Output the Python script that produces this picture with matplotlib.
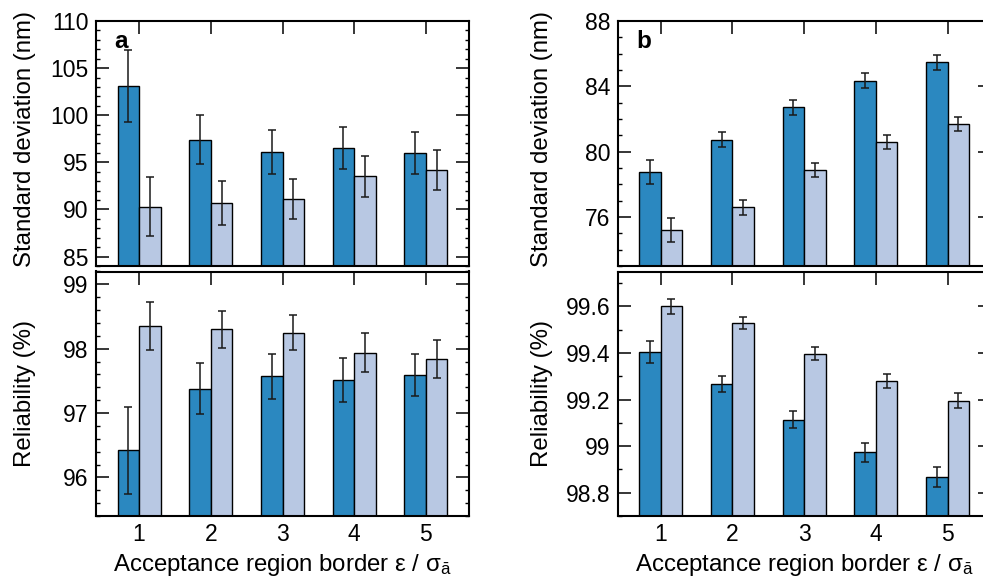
import matplotlib
matplotlib.use("Agg")
import matplotlib.pyplot as plt
from matplotlib.ticker import MultipleLocator, FuncFormatter
import numpy as np

plt.rcParams['font.family'] = ['Liberation Sans', 'DejaVu Sans']
plt.rcParams['mathtext.fontset'] = 'custom'
plt.rcParams['mathtext.rm'] = 'Liberation Sans'
plt.rcParams['mathtext.it'] = 'Liberation Sans'
plt.rcParams['mathtext.bf'] = 'Liberation Sans:bold'

borders = [1, 2, 3, 4, 5]

# panel a
sd_a_dark = [103.1, 97.4, 96.1, 96.5, 96.0]
sd_a_dark_err = [3.8, 2.6, 2.35, 2.25, 2.2]
sd_a_light = [90.3, 90.7, 91.1, 93.5, 94.2]
sd_a_light_err = [3.15, 2.35, 2.15, 2.2, 2.15]
rel_a_dark = [96.42, 97.38, 97.57, 97.51, 97.59]
rel_a_dark_err = [0.68, 0.40, 0.345, 0.34, 0.33]
rel_a_light = [98.35, 98.30, 98.25, 97.94, 97.84]
rel_a_light_err = [0.375, 0.29, 0.27, 0.30, 0.30]

# panel b
sd_b_dark = [78.75, 80.73, 82.71, 84.35, 85.47]
sd_b_dark_err = [0.72, 0.46, 0.44, 0.47, 0.46]
sd_b_light = [75.2, 76.6, 78.88, 80.57, 81.71]
sd_b_light_err = [0.72, 0.45, 0.42, 0.43, 0.43]
rel_b_dark = [99.404, 99.267, 99.113, 98.973, 98.869]
rel_b_dark_err = [0.047, 0.034, 0.036, 0.041, 0.043]
rel_b_light = [99.60, 99.529, 99.396, 99.28, 99.196]
rel_b_light_err = [0.034, 0.024, 0.028, 0.030, 0.033]

DARK = '#2b88c0'
LIGHT = '#b8c8e3'
W, H = 983, 578
TICK_FS = 16.5
LABEL_FS = 17.3


def px_axes(fig, left, top, right, bottom):
    return fig.add_axes([left / W, 1 - bottom / H, (right - left) / W, (bottom - top) / H])


def draw_bars(ax, dark, dark_err, light, light_err):
    x = np.array(borders, dtype=float)
    w = 0.3
    ax.bar(x - w / 2, dark, w, color=DARK, edgecolor='black', linewidth=1.0, zorder=1)
    ax.bar(x + w / 2, light, w, color=LIGHT, edgecolor='black', linewidth=1.0, zorder=1)
    ax.errorbar(x - w / 2, dark, yerr=dark_err, fmt='none', ecolor='#1a1a1a',
                elinewidth=1.1, capsize=3, capthick=1.1, zorder=3)
    ax.errorbar(x + w / 2, light, yerr=light_err, fmt='none', ecolor='#1a1a1a',
                elinewidth=1.1, capsize=3, capthick=1.1, zorder=3)
    ax.set_xlim(0.4, 5.6)
    ax.set_xticks(borders)
    for s in ax.spines.values():
        s.set_linewidth(1.5)
    ax.tick_params(axis='x', which='both', direction='in', bottom=False, top=True,
                   length=9.5, width=1.1, labelsize=TICK_FS, pad=5)
    ax.tick_params(axis='y', which='both', direction='in', left=True, right=True,
                   labelsize=TICK_FS, pad=5.5)
    ax.tick_params(axis='y', which='major', length=9.5, width=1.1)
    ax.tick_params(axis='y', which='minor', length=3.2, width=1.0)


fig = plt.figure(figsize=(W / 100, H / 100), dpi=100)

ax_a1 = px_axes(fig, 96, 21, 469, 266)
ax_a2 = px_axes(fig, 96, 271.5, 469, 516)
ax_b1 = px_axes(fig, 617.7, 21, 990.7, 266)
ax_b2 = px_axes(fig, 617.7, 271.5, 990.7, 516)

draw_bars(ax_a1, sd_a_dark, sd_a_dark_err, sd_a_light, sd_a_light_err)
draw_bars(ax_a2, rel_a_dark, rel_a_dark_err, rel_a_light, rel_a_light_err)
draw_bars(ax_b1, sd_b_dark, sd_b_dark_err, sd_b_light, sd_b_light_err)
draw_bars(ax_b2, rel_b_dark, rel_b_dark_err, rel_b_light, rel_b_light_err)

fmt = FuncFormatter(lambda v, p: '{:g}'.format(round(v, 3)))

ax_a1.set_ylim(84, 110)
ax_a1.yaxis.set_major_locator(MultipleLocator(5))
ax_a1.yaxis.set_minor_locator(MultipleLocator(1))
ax_a2.set_ylim(95.4, 99.2)
ax_a2.yaxis.set_major_locator(MultipleLocator(1))
ax_a2.yaxis.set_minor_locator(MultipleLocator(0.2))
ax_b1.set_ylim(73, 88)
ax_b1.yaxis.set_major_locator(MultipleLocator(4))
ax_b1.yaxis.set_minor_locator(MultipleLocator(1))
ax_b2.set_ylim(98.7, 99.75)
ax_b2.yaxis.set_major_locator(MultipleLocator(0.2))
ax_b2.yaxis.set_minor_locator(MultipleLocator(0.1))

for ax in (ax_a1, ax_a2, ax_b1, ax_b2):
    ax.yaxis.set_major_formatter(fmt)

for ax in (ax_a1, ax_b1):
    ax.tick_params(axis='x', labelbottom=False)
    ax.set_ylabel('Standard deviation (nm)', fontsize=LABEL_FS)
for ax in (ax_a2, ax_b2):
    ax.set_ylabel('Reliability (%)', fontsize=LABEL_FS)
    ax.set_xlabel('Acceptance region border ε / $\\sigma_{\\bar{a}}$',
                  fontsize=LABEL_FS, labelpad=4)

ax_a1.yaxis.set_label_coords(-0.161, 0.52)
ax_a2.yaxis.set_label_coords(-0.161, 0.5)
ax_b1.yaxis.set_label_coords(-0.173, 0.52)
ax_b2.yaxis.set_label_coords(-0.173, 0.5)

ax_a1.text(0.048, 0.89, 'a', transform=ax_a1.transAxes, fontsize=17.5,
           fontweight='bold', va='baseline', ha='left')
ax_b1.text(0.050, 0.89, 'b', transform=ax_b1.transAxes, fontsize=17.5,
           fontweight='bold', va='baseline', ha='left')

fig.savefig('out.png', dpi=100)
